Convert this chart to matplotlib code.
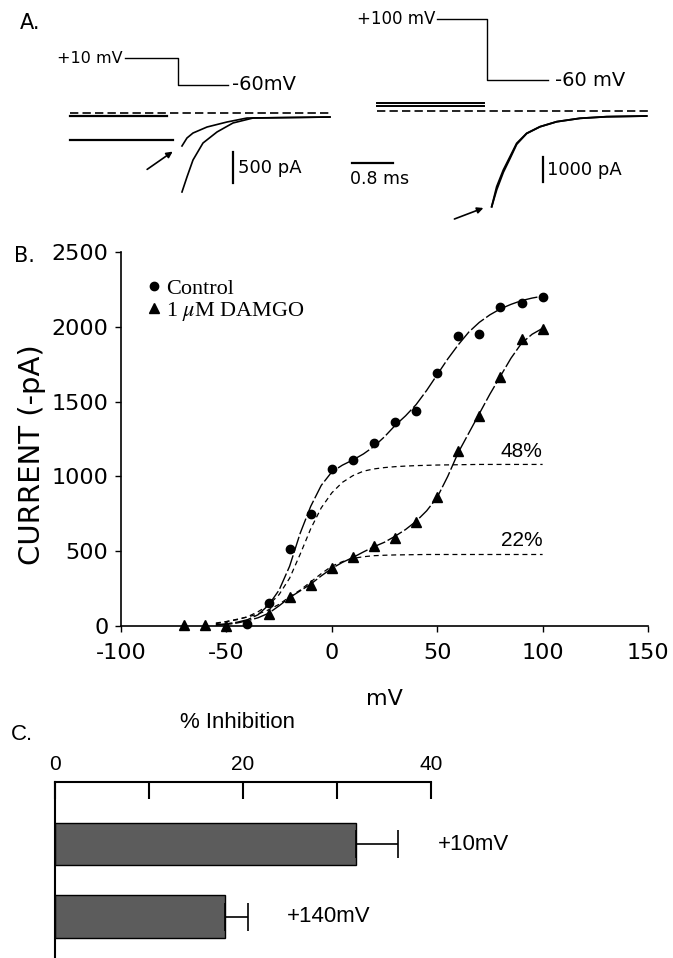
import numpy as np
import matplotlib
matplotlib.use('Agg')
import matplotlib.pyplot as plt

plt.rcParams['mathtext.fontset'] = 'stix'
plt.rcParams['axes.unicode_minus'] = False

# ---- Panel A: tail current traces (time in ms, current in pA, voltage in mV)
stepL_t = [-1.04, 0, 0, 0.98]
stepL_v = [10, 10, -60, -60]
stepR_t = [-0.98, 0, 0, 1.2]
stepR_v = [100, 100, -60, -60]

preL1_t, preL1_i = [-2.12, -0.22], [-48, -48]
preL2_t, preL2_i = [-2.12, -0.10], [-435, -435]
tailL1_t = [0.078, 0.176, 0.294, 0.569, 0.961, 1.353, 2.98]
tailL1_i = [-532, -403, -323, -226, -145, -81, -65]
tailL2_t = [0.078, 0.176, 0.294, 0.490, 0.765, 1.078, 1.471, 2.98]
tailL2_i = [-1274, -1032, -758, -484, -306, -161, -81, -65]

preR1_t, preR1_i = [-2.16, -0.06], [320, 320]
preR2_t, preR2_i = [-2.16, -0.06], [220, 220]
tailR_t = [0.092, 0.190, 0.320, 0.451, 0.582, 0.778, 1.039, 1.366, 1.824, 2.347, 3.131]
tailR1_i = [-3828, -3028, -2360, -1828, -1292, -892, -628, -428, -292, -228, -200]
tailR2_i = [-3828, -3150, -2450, -1900, -1330, -900, -630, -428, -292, -228, -200]

# ---- Panel B: I-V relation
v_ctrl = [-40, -30, -20, -10, 0, 10, 20, 30, 40, 50, 60, 70, 80, 90, 100]
i_ctrl = [15, 151, 518, 747, 1051, 1107, 1222, 1362, 1440, 1689, 1938, 1951, 2135, 2162, 2200]
v_damgo = [-70, -60, -50, -30, -20, -10, 0, 10, 20, 30, 40, 50, 60, 70, 80, 90, 100]
i_damgo = [8, 8, 3, 80, 191, 273, 386, 458, 533, 589, 696, 862, 1173, 1402, 1662, 1918, 1984]

fit_v = [-55, -50, -45, -40, -35, -30, -25, -20, -15, -10, -5, 0, 5, 10, 15, 20,
         25, 30, 35, 40, 45, 50, 55, 60, 65, 70, 75, 80, 85, 90, 95, 100]
ctrl_fit = [8, 15, 25, 42, 75, 140, 240, 400, 620, 800, 940, 1030, 1075, 1110, 1150, 1200,
            1265, 1340, 1405, 1480, 1575, 1680, 1785, 1880, 1965, 2030, 2080, 2120, 2150, 2175, 2192, 2205]
ctrl_low = [15, 29, 42, 62, 95, 140, 210, 320, 480, 650, 790, 890, 960, 1005, 1035, 1050,
            1059, 1065, 1069, 1072, 1074, 1076, 1077, 1078, 1079, 1080, 1080, 1080, 1080, 1080, 1080, 1080]
damgo_fit = [5, 10, 20, 35, 55, 85, 135, 190, 235, 280, 335, 385, 425, 458, 495, 530,
             560, 600, 645, 700, 770, 860, 1000, 1160, 1290, 1420, 1550, 1670, 1790, 1890, 1950, 1990]
damgo_low = [20, 30, 45, 60, 80, 108, 145, 195, 240, 295, 350, 400, 430, 452, 463, 470,
             473, 475, 476, 477, 478, 478, 478, 478, 478, 478, 478, 478, 478, 478, 478, 478]

# ---- Panel C: % inhibition
cond_labels = ['+10mV', '+140mV']
inhibition = [32.0, 18.1]
inhibition_err = [4.5, 2.4]

W, H = 673, 958
fig = plt.figure(figsize=(W / 100, H / 100), dpi=100)


def px_axes(x0, y0, x1, y1):
    ax = fig.add_axes([x0 / W, 1 - y1 / H, (x1 - x0) / W, (y1 - y0) / H])
    ax.set_axis_off()
    return ax


MS_PX = 51.0   # pixels per ms
MV_PX = 0.38   # pixels per mV


def trace_axes(x0, x1, t0_px, base_px, pa_px):
    ax = px_axes(x0, 95, x1, 235)
    ax.set_xlim((x0 - t0_px) / MS_PX, (x1 - t0_px) / MS_PX)
    ax.set_ylim(-(235 - base_px) / pa_px, (base_px - 95) / pa_px)
    return ax


def step_axes(x0, x1, t0_px, y_top, m60_px):
    ax = px_axes(x0, y_top, x1, 100)
    ax.set_xlim((x0 - t0_px) / MS_PX, (x1 - t0_px) / MS_PX)
    ax.set_ylim(-60 - (100 - m60_px) / MV_PX, -60 + (m60_px - y_top) / MV_PX)
    return ax


dash_base = (0, (5, 2.5))

# left traces
axLv = step_axes(60, 340, 178, 40, 85)
axLv.plot(stepL_t, stepL_v, color='k', lw=1)
axLv.text(-1.08, 10, '+10 mV', ha='right', va='center', fontsize=11.5)
axLv.text(1.06, -60, '-60mV', ha='left', va='center', fontsize=14)

axL = trace_axes(60, 340, 178, 113, 0.062)
axL.plot([-2.12, 2.98], [0, 0], color='k', lw=1.2, ls=dash_base)
axL.plot(preL1_t, preL1_i, color='k', lw=1.6)
axL.plot(preL2_t, preL2_i, color='k', lw=1.6)
axL.plot(tailL1_t, tailL1_i, color='k', lw=1.2)
axL.plot(tailL2_t, tailL2_i, color='k', lw=1.2)
axL.annotate('', xy=(-0.06, -597), xytext=(-0.65, -935),
             arrowprops=dict(arrowstyle='-|>', color='k', lw=1.2, mutation_scale=9))
axL.plot([1.08, 1.08], [-630, -1130], color='k', lw=1.6)
axL.text(1.17, -880, '500 pA', ha='left', va='center', fontsize=13)

# right traces
axRv = step_axes(345, 668, 487, 5, 80)
axRv.plot(stepR_t, stepR_v, color='k', lw=1)
axRv.text(-1.02, 100, '+100 mV', ha='right', va='center', fontsize=12)
axRv.text(1.33, -60, '-60 mV', ha='left', va='center', fontsize=14)

axR = trace_axes(345, 668, 487, 111, 0.025)
axR.plot([-2.16, 3.16], [0, 0], color='k', lw=1.2, ls=dash_base)
axR.plot(preR1_t, preR1_i, color='k', lw=1.4)
axR.plot(preR2_t, preR2_i, color='k', lw=1.4)
axR.plot(tailR_t, tailR1_i, color='k', lw=1.3)
axR.plot(tailR_t, tailR2_i, color='k', lw=1.3)
axR.annotate('', xy=(-0.02, -3840), xytext=(-0.69, -4360),
             arrowprops=dict(arrowstyle='-|>', color='k', lw=1.2, mutation_scale=9))
axR.plot([-2.65, -1.85], [-2080, -2080], color='k', lw=1.6)
axR.text(-2.68, -2700, '0.8 ms', ha='left', va='center', fontsize=12.5)
axR.plot([1.10, 1.10], [-1840, -2840], color='k', lw=1.6)
axR.text(1.18, -2340, '1000 pA', ha='left', va='center', fontsize=13)

fig.text(30 / W, 1 - 23 / H, 'A.', ha='center', va='center', fontsize=15)

# ---- Panel B
axB = fig.add_axes([121 / W, 1 - 626 / H, (648 - 121) / W, (626 - 252) / H])
axB.set_xlim(-100, 150)
axB.set_ylim(0, 2500)
for s in ['top', 'right']:
    axB.spines[s].set_visible(False)
for s in ['left', 'bottom']:
    axB.spines[s].set_linewidth(1.2)
axB.set_xticks([-100, -50, 0, 50, 100, 150])
axB.set_yticks([0, 500, 1000, 1500, 2000, 2500])
axB.tick_params(direction='out', length=4, width=1, labelsize=16)
axB.tick_params(axis='y', pad=5)
axB.tick_params(axis='x', pad=8)

axB.plot(fit_v, ctrl_fit, color='k', lw=1, dashes=(12, 2))
axB.plot(fit_v, damgo_fit, color='k', lw=1, dashes=(12, 2))
axB.plot(fit_v, ctrl_low, color='k', lw=0.9, dashes=(4, 3))
axB.plot(fit_v, damgo_low, color='k', lw=0.9, dashes=(4, 3))
hd, = axB.plot(v_damgo, i_damgo, '^', color='k', ms=6.5, clip_on=False)
hc, = axB.plot(v_ctrl, i_ctrl, 'o', color='k', ms=6, clip_on=False)

axB.text(100, 1167, '48%', ha='right', va='center', fontsize=15, family='Liberation Sans')
axB.text(100, 573, '22%', ha='right', va='center', fontsize=15, family='Liberation Sans')

axB.legend([hc, hd], ['Control', r'1 $\mu$M DAMGO'], loc='upper left',
           bbox_to_anchor=(0.052, 0.93), frameon=False, borderpad=0, borderaxespad=0,
           handlelength=0.5, handletextpad=0.3, labelspacing=0.05,
           prop={'family': 'Liberation Serif', 'size': 16})

fig.text(32 / W, 1 - 455 / H, 'CURRENT (-pA)', rotation=90, ha='center', va='center', fontsize=21)
fig.text(384 / W, 1 - 699 / H, 'mV', ha='center', va='center', fontsize=16)
fig.text(24 / W, 1 - 256 / H, 'B.', ha='center', va='center', fontsize=15)

# ---- Panel C
axC = fig.add_axes([55 / W, 0, (431 - 55) / W, (958 - 782) / H])
axC.set_xlim(0, 40)
axC.set_ylim(1.572, -0.855)
ypos = np.arange(len(cond_labels))
axC.barh(ypos, inhibition, height=0.58, color='#5c5c5c', edgecolor='k', lw=1)
axC.errorbar(inhibition, ypos, xerr=[[0] * len(ypos), inhibition_err], fmt='none',
             ecolor='k', elinewidth=1.2, capsize=10, capthick=1.2)
for y, v, e, lab in zip(ypos, inhibition, inhibition_err, cond_labels):
    axC.text(v + e + 4.2, y, lab, ha='left', va='center', fontsize=16, family='Liberation Sans')
for s in ['bottom', 'right']:
    axC.spines[s].set_visible(False)
for s in ['top', 'left']:
    axC.spines[s].set_linewidth(1.5)
axC.xaxis.tick_top()
axC.set_xticks([0, 10, 20, 30, 40])
axC.set_xticklabels(['0', '', '20', '', '40'], family='Liberation Sans')
axC.tick_params(axis='x', direction='in', length=12, width=1.5, labelsize=15, pad=6)
axC.set_yticks([])

fig.text(237 / W, 1 - 723 / H, '% Inhibition', ha='center', va='center', fontsize=16,
         family='Liberation Sans')
fig.text(22 / W, 1 - 734 / H, 'C.', ha='center', va='center', fontsize=16, family='Liberation Sans')

fig.savefig('out.png', dpi=100)
